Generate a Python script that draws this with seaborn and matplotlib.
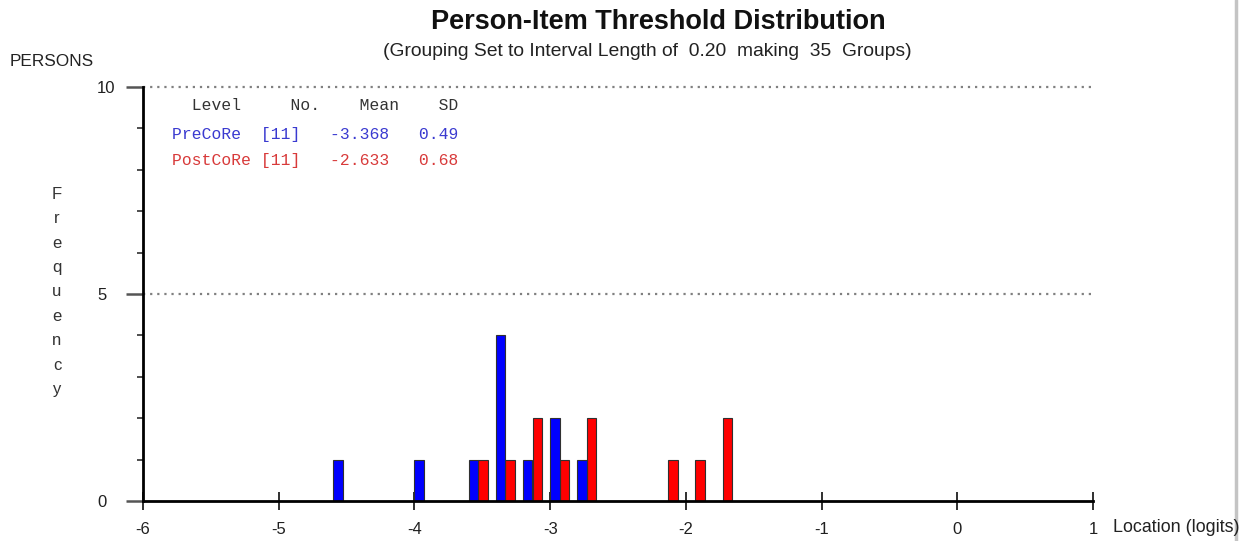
import numpy as np
import pandas as pd
import matplotlib
matplotlib.use("Agg")
import matplotlib.pyplot as plt
import seaborn as sns
from matplotlib import font_manager as fm
from matplotlib.ticker import FixedLocator, MultipleLocator
from matplotlib.lines import Line2D

# ---------------- data ----------------
group_starts = [-4.6, -4.0, -3.6, -3.4, -3.2, -3.0, -2.8, -2.2, -2.0, -1.8]
pre_counts = [1, 1, 1, 4, 1, 2, 1, 0, 0, 0]
post_counts = [0, 0, 1, 1, 2, 1, 2, 1, 1, 2]
levels = ["PreCoRe", "PostCoRe"]
level_n = [11, 11]
level_mean = [-3.368, -2.633]
level_sd = [0.49, 0.68]
x_ticks = [-6, -5, -4, -3, -2, -1, 0, 1]
y_ticks = [0, 5, 10]
interval = 0.20
n_groups = 35
x_min, x_max = -6, 1

# ---------------- style ----------------
sns.set_style("white")
names = {f.name for f in fm.fontManager.ttflist}
sans = "Liberation Sans" if "Liberation Sans" in names else "DejaVu Sans"
mono = "Liberation Mono" if "Liberation Mono" in names else "DejaVu Sans Mono"
plt.rcParams["font.family"] = [sans, "DejaVu Sans"]

W, H = 1243, 541
fig = plt.figure(figsize=(W / 100, H / 100), dpi=100)
fx = lambda px: px / W
fy = lambda py: 1 - py / H
ax = fig.add_axes([fx(143), fy(501), (1093 - 143) / W, (501 - 87) / H])

df = pd.DataFrame({
    "Location": [s + interval / 2 for s in group_starts] * 2,
    "Count": pre_counts + post_counts,
    "Level": [levels[0]] * len(group_starts) + [levels[1]] * len(group_starts),
})
edges = [float(e) for e in np.round(np.arange(x_min, x_max + 1e-9, interval), 2) - 0.03]

sns.histplot(df, x="Location", weights="Count", hue="Level", hue_order=levels,
             bins=edges, multiple="dodge", shrink=0.7,
             palette={"PreCoRe": "#0000ff", "PostCoRe": "#ff0000"},
             alpha=1, edgecolor="#303030", linewidth=0.8, legend=False, ax=ax)

ax.set_xlim(x_min, x_max)
ax.set_ylim(0, 10)
ax.set_xlabel("")
ax.set_ylabel("")
for s in ["top", "right"]:
    ax.spines[s].set_visible(False)
for s in ["left", "bottom"]:
    ax.spines[s].set_linewidth(2)
    ax.spines[s].set_color("black")
    ax.spines[s].set_zorder(5)

for yv in [5, 10]:
    ax.axhline(yv, color="#808080", lw=1.6, ls=(0, (1, 2.2)), zorder=0, clip_on=False)

ax.xaxis.set_major_locator(FixedLocator(x_ticks))
ax.yaxis.set_major_locator(FixedLocator(y_ticks))
ax.yaxis.set_minor_locator(MultipleLocator(1))
ax.tick_params(axis="x", which="major", bottom=True, direction="inout", length=13,
               width=1.3, color="#202020", labelsize=12, pad=8.5, labelcolor="#202020")
ax.tick_params(axis="y", which="major", left=True, direction="out", length=12, width=1.8,
               color="#555555", labelsize=12, pad=21, labelcolor="#202020")
ax.tick_params(axis="y", which="minor", left=True, direction="out", length=4.5, width=1.2,
               color="#303030")
ax.set_xticklabels([str(t) for t in x_ticks])
ax.set_yticklabels([str(t) for t in y_ticks])
for lab in ax.get_yticklabels():
    lab.set_horizontalalignment("left")

# ---------------- texts ----------------
fig.text(fx(658), fy(22), "Person-Item Threshold Distribution", ha="center", va="center",
         fontsize=19.5, fontweight="bold", color="#111111")
fig.text(fx(647), fy(52),
         f"(Grouping Set to Interval Length of  {interval:.2f}  making  {n_groups}  Groups)",
         ha="center", va="center", fontsize=13.9, color="#222222")
fig.text(fx(10), fy(62), "PERSONS", ha="left", va="center", fontsize=12.4, color="#222222")
fig.text(fx(1113), fy(527), "Location (logits)", ha="left", va="center", fontsize=12.9,
         color="#222222")
fig.text(fx(57), fy(292), "\n".join("Frequency"), ha="center", va="center", fontsize=12,
         linespacing=1.78, color="#333333")

header = "  Level     No.    Mean    SD"
rows = [f"{lv:<9}[{n}]   {m:.3f}   {sd:.2f}" for lv, n, m, sd in
        zip(levels, level_n, level_mean, level_sd)]
fig.text(fx(172), fy(105), header, ha="left", va="center", family=mono, fontsize=11.75,
         color="#333333")
fig.text(fx(172), fy(134), rows[0], ha="left", va="center", family=mono, fontsize=11.75,
         color="#3a3ad0")
fig.text(fx(172), fy(161), rows[1], ha="left", va="center", family=mono, fontsize=11.75,
         color="#d83a3a")

fig.add_artist(Line2D([fx(1236), fx(1236)], [0, 1], transform=fig.transFigure,
                      color="#c4c4c4", lw=2.5))

fig.savefig("out.png", dpi=100)
